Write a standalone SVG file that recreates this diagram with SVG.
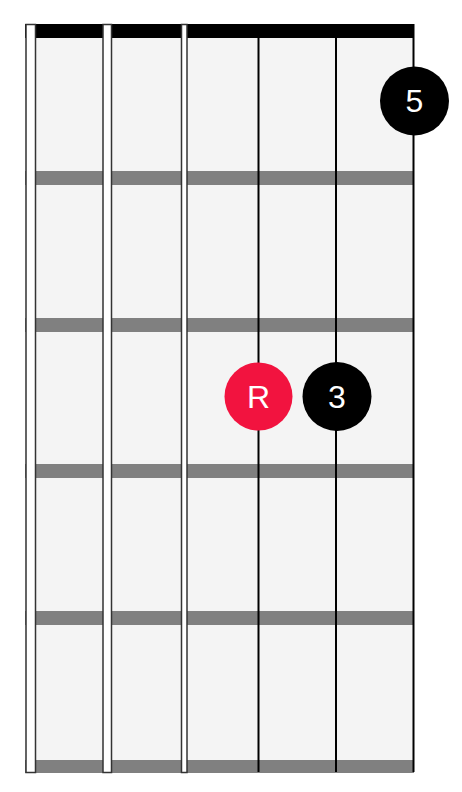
<svg xmlns="http://www.w3.org/2000/svg" width="462" height="792" viewBox="0 0 462 792">
<style>
.fret{fill:#808080}
.wound{fill:#ffffff;stroke:#333333;stroke-width:1.5}
.plain{stroke:#000000;stroke-width:2}
.lbl{font-family:"Liberation Sans",Arial,sans-serif;font-size:32px;fill:#ffffff;text-anchor:middle;dominant-baseline:central}
</style>
<rect width="462" height="792" fill="#ffffff"/>
<g id="board">
<rect x="25" y="24" width="389" height="749" fill="#f4f4f4"/>
<rect x="25" y="24" width="389" height="14" fill="#000000"/>
<rect class="fret" x="25" y="171" width="389" height="14"/>
<rect class="fret" x="25" y="318" width="389" height="14"/>
<rect class="fret" x="25" y="464" width="389" height="14"/>
<rect class="fret" x="25" y="611" width="389" height="14"/>
<rect class="fret" x="25" y="760" width="389" height="13"/>
</g>
<g id="strings">
<rect class="wound" x="26" y="24.5" width="9.5" height="748"/>
<rect class="wound" x="103" y="24.5" width="8.5" height="748"/>
<rect class="wound" x="181.5" y="24.5" width="5.5" height="748"/>
<line class="plain" x1="258.5" y1="24" x2="258.5" y2="772"/>
<line class="plain" x1="336" y1="24" x2="336" y2="772"/>
<line class="plain" x1="413.5" y1="24" x2="413.5" y2="772"/>
</g>
<g id="dot-5">
<circle cx="414.5" cy="101" r="34.5" fill="#000000"/>
<text class="lbl" x="414.5" y="101">5</text>
</g>
<g id="dot-R">
<circle cx="258.5" cy="396.5" r="34" fill="#f2133f"/>
<text class="lbl" x="258.5" y="396.5">R</text>
</g>
<g id="dot-3">
<circle cx="337" cy="396.5" r="34.5" fill="#000000"/>
<text class="lbl" x="337" y="396.5">3</text>
</g>
</svg>
